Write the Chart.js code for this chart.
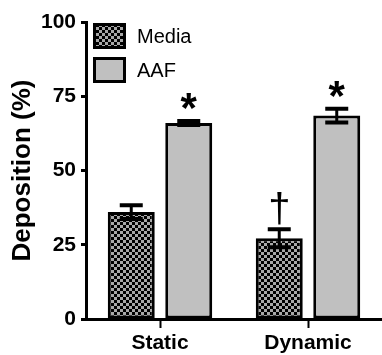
<!DOCTYPE html>
<html>
<head>
<meta charset="utf-8">
<script src="https://cdn.jsdelivr.net/npm/chart.js@4"></script>
<style>
  body { margin: 0; background: #fff; }
</style>
</head>
<body>
<canvas id="c" width="382" height="355"></canvas>
<script>
// Data
const categories = ['Static', 'Dynamic'];
const mediaValues = [36.0, 27.2];
const mediaErrors = [2.3, 3.0];
const aafValues = [66.0, 68.5];
const aafErrors = [0.7, 2.3];
const mediaMarks = ['', '\u2020'];
const aafMarks = ['*', '*'];
const yTicks = [0, 25, 50, 75, 100];

const FONT = '"Liberation Sans", Arial, sans-serif';

let ctx = document.getElementById('c').getContext('2d');

// checkered fill for the Media bars
function makeChecker() {
    let pc = document.createElement('canvas');
    pc.width = 6;
    pc.height = 6;
    let g = pc.getContext('2d');
    g.fillStyle = '#a8a8a8';
    g.fillRect(0, 0, 6, 6);
    g.fillStyle = '#000';
    g.fillRect(0, 0, 3, 3);
    g.fillRect(3, 3, 3, 3);
    return ctx.createPattern(pc, 'repeat');
}
const checker = makeChecker();
const aafGray = '#c0c0c0';

// error bars + significance marks
const errorBarPlugin = {
    id: 'errorBars',
    afterDatasetsDraw(chart) {
        let c = chart.ctx;
        let y = chart.scales.y;
        chart.data.datasets.forEach((ds, i) => {
            let meta = chart.getDatasetMeta(i);
            meta.data.forEach((bar, j) => {
                let v = ds.data[j], e = ds.errors[j];
                let top = y.getPixelForValue(v + e);
                let bot = y.getPixelForValue(v - e);
                c.save();
                c.strokeStyle = '#000';
                c.lineWidth = 3;
                c.beginPath();
                c.moveTo(bar.x, top);
                c.lineTo(bar.x, bot);
                c.stroke();
                c.lineWidth = 4;
                c.beginPath();
                c.moveTo(bar.x - 11.5, top);
                c.lineTo(bar.x + 11.5, top);
                c.moveTo(bar.x - 11.5, bot);
                c.lineTo(bar.x + 11.5, bot);
                c.stroke();

                let mark = ds.marks[j];
                if (mark) {
                    let st = mark === '*' ? { font: 'bold 42px ' + FONT, gap: 12 } : { font: '40px ' + FONT, gap: 4 };
                    c.font = st.font;
                    c.fillStyle = '#000';
                    c.textAlign = 'center';
                    c.textBaseline = 'alphabetic';
                    let m = c.measureText(mark);
                    c.fillText(mark, bar.x, top - st.gap - m.actualBoundingBoxDescent);
                }
                c.restore();
            });
        });
    }
};

// legend drawn inside the plot, top left
const boxLegendPlugin = {
    id: 'boxLegend',
    afterDraw(chart) {
        let c = chart.ctx;
        let x0 = chart.chartArea.left + 7;
        let y0 = chart.chartArea.top + 1;
        chart.data.datasets.forEach((ds, i) => {
            let by = y0 + i * 34;
            c.save();
            c.fillStyle = ds.backgroundColor;
            c.fillRect(x0, by, 33, 26);
            c.strokeStyle = '#000';
            c.lineWidth = 3;
            c.strokeRect(x0 + 1.5, by + 1.5, 30, 23);
            c.font = '20px ' + FONT;
            c.fillStyle = '#000';
            c.textAlign = 'left';
            c.textBaseline = 'middle';
            c.fillText(ds.label, x0 + 44, by + 14);
            c.restore();
        });
    }
};

new Chart(ctx, {
    type: 'bar',
    data: {
        labels: categories,
        datasets: [
            {
                label: 'Media',
                data: mediaValues,
                errors: mediaErrors,
                marks: mediaMarks,
                backgroundColor: checker,
                borderColor: '#000',
                borderWidth: 3,
                borderSkipped: false
            },
            {
                label: 'AAF',
                data: aafValues,
                errors: aafErrors,
                marks: aafMarks,
                backgroundColor: aafGray,
                borderColor: '#000',
                borderWidth: 3,
                borderSkipped: false
            }
        ]
    },
    options: {
        responsive: false,
        animation: false,
        devicePixelRatio: 1,
        layout: { padding: { top: 22, left: 3, right: 0, bottom: 0 } },
        datasets: {
            bar: { categoryPercentage: 0.777, barPercentage: 0.817 }
        },
        plugins: {
            legend: { display: false },
            tooltip: { enabled: false }
        },
        scales: {
            x: {
                grid: {
                    display: true,
                    offset: false,
                    drawOnChartArea: false,
                    drawTicks: true,
                    tickLength: 9,
                    tickWidth: 2,
                    tickColor: '#000'
                },
                border: { display: true, color: '#000', width: 3 },
                ticks: {
                    color: '#000',
                    padding: 3,
                    font: { family: FONT, size: 21, weight: 'bold' }
                },
                afterFit: s => { s.height = 36; }
            },
            y: {
                min: 0,
                max: 100,
                afterBuildTicks: s => { s.ticks = yTicks.map(v => ({ value: v })); },
                grid: {
                    display: true,
                    drawOnChartArea: false,
                    drawTicks: true,
                    tickLength: 5,
                    tickWidth: 3,
                    tickColor: '#000'
                },
                border: { display: true, color: '#000', width: 3 },
                ticks: {
                    color: '#000',
                    padding: 5,
                    font: { family: FONT, size: 21, weight: 'bold' }
                },
                title: {
                    display: true,
                    text: 'Deposition (%)',
                    color: '#000',
                    padding: { top: 4, bottom: 4 },
                    font: { family: FONT, size: 26, weight: 'bold' }
                },
                afterFit: s => { s.width = 83; }
            }
        }
    },
    plugins: [errorBarPlugin, boxLegendPlugin]
});
</script>
</body>
</html>
